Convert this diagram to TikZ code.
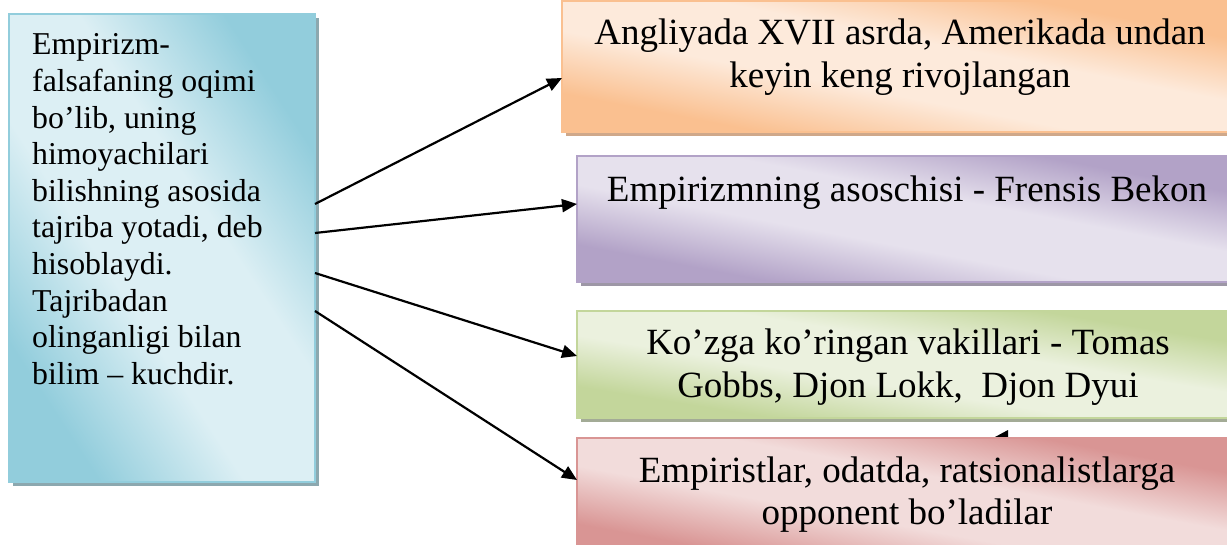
\documentclass[tikz,border=0pt]{standalone}
\usepackage{fontspec}
\setmainfont{Liberation Serif}
\usetikzlibrary{arrows.meta,backgrounds}
\definecolor{bD}{HTML}{92CDDC}\definecolor{bL}{HTML}{DCEFF4}\definecolor{bS}{HTML}{8CA8AF}
\definecolor{oD}{HTML}{FAC090}\definecolor{oL}{HTML}{FDEADB}\definecolor{oS}{HTML}{CFA88A}
\definecolor{pD}{HTML}{B2A2C7}\definecolor{pL}{HTML}{E6E1ED}\definecolor{pS}{HTML}{9D97A6}
\definecolor{gD}{HTML}{C3D69B}\definecolor{gL}{HTML}{EBF1DE}\definecolor{gS}{HTML}{A3AB96}
\definecolor{rD}{HTML}{D99594}\definecolor{rL}{HTML}{F2DCDB}
\colorlet{mdk}{bD}\colorlet{mlt}{bL}
\pgfdeclareverticalshading[mdk,mlt]{mirrorfill}{100bp}{color(0bp)=(mdk); color(25bp)=(mdk); color(42bp)=(mlt); color(58bp)=(mlt); color(75bp)=(mdk); color(100bp)=(mdk)}
\newcommand\boxshade[5]{%
  \colorlet{mdk}{#4}\colorlet{mlt}{#5}%
  \begin{scope}[transform canvas={shift={(#1.center)},xscale=#2}]
    \shade[shading=mirrorfill, shading angle=-45] (-#3,-#3) rectangle (#3,#3);
  \end{scope}}
\begin{document}
\begin{tikzpicture}[x=1pt,y=1pt,
  box/.style={draw, line width=1.5pt, inner sep=0pt, outer sep=0pt},
  smalltxt/.style={inner sep=0pt, anchor=base west, font=\fontsize{31.8}{36.6}\selectfont},
  bigtxt/.style={inner sep=0pt, anchor=base, font=\fontsize{37}{42.5}\selectfont},
  arr/.style={line width=2.2pt, -{Triangle[length=15pt,width=13pt]}}]
\useasboundingbox (0,0) rectangle (1227,-545);

% boxes (borders)
\node[box, draw=bD, minimum width=306pt, minimum height=468pt] (L) at (162,-248) {};
\node[box, draw=oD, minimum width=676pt, minimum height=131pt] (O) at (900,-66.5) {};
\node[box, draw=pD, minimum width=661pt, minimum height=126pt] (P) at (907.5,-219) {};
\node[box, draw=gD, minimum width=661pt, minimum height=107pt] (G) at (907.5,-364.5) {};
\node[box, draw=rD, minimum width=661pt, minimum height=122pt] (R) at (907.5,-499) {};

% shadows and gradient fills
\begin{scope}[on background layer]
  \fill[bS] ([shift={(4,-4)}]L.south west) rectangle ([shift={(4,-4)}]L.north east);
  \fill[oS] ([shift={(4,-4)}]O.south west) rectangle ([shift={(4,-4)}]O.north east);
  \fill[pS] ([shift={(4,-4)}]P.south west) rectangle ([shift={(4,-4)}]P.north east);
  \fill[gS] ([shift={(4,-4)}]G.south west) rectangle ([shift={(4,-4)}]G.north east);
  \boxshade{L}{0.65385}{234}{bD}{bL}
  \boxshade{O}{5.16031}{65.5}{oD}{oL}
  \boxshade{P}{5.24603}{63}{pD}{pL}
  \boxshade{G}{6.17757}{53.5}{gD}{gL}
  \fill (995,-437) -- (1008,-430) -- (1008,-437) -- cycle;
  \boxshade{R}{5.41803}{61}{rD}{rL}
\end{scope}

% texts
\node[smalltxt] (Lt) at (32,-55) {\begin{tabular}[t]{@{}l@{}}Empirizm-\\falsafaning oqimi\\bo’lib, uning\\himoyachilari\\bilishning asosida\\tajriba yotadi, deb\\hisoblaydi.\\Tajribadan\\olinganligi bilan\\bilim – kuchdir.\end{tabular}};
\node[bigtxt] (Ot) at (900,-45) {\begin{tabular}[t]{@{}c@{}}Angliyada XVII asrda, Amerikada undan\\keyin keng rivojlangan\end{tabular}};
\node[bigtxt] (Pt) at (907,-202) {Empirizmning asoschisi - Frensis Bekon};
\node[bigtxt] (Gt) at (908,-355) {\begin{tabular}[t]{@{}c@{}}Ko’zga ko’ringan vakillari - Tomas\\Gobbs, Djon Lokk, \ Djon Dyui\end{tabular}};
\node[bigtxt] (Rt) at (907,-482) {\begin{tabular}[t]{@{}c@{}}Empiristlar, odatda, ratsionalistlarga\\opponent bo’ladilar\end{tabular}};

% connectors
\draw[arr] ([yshift=44pt]L.east) -- ([yshift=-11.5pt]O.west);
\draw[arr] ([yshift=15pt]L.east) -- ([yshift=15pt]P.west);
\draw[arr] ([yshift=-25pt]L.east) -- ([yshift=8.5pt]G.west);
\draw[arr] ([yshift=-63pt]L.east) -- ([yshift=19pt]R.west);
\end{tikzpicture}
\end{document}
